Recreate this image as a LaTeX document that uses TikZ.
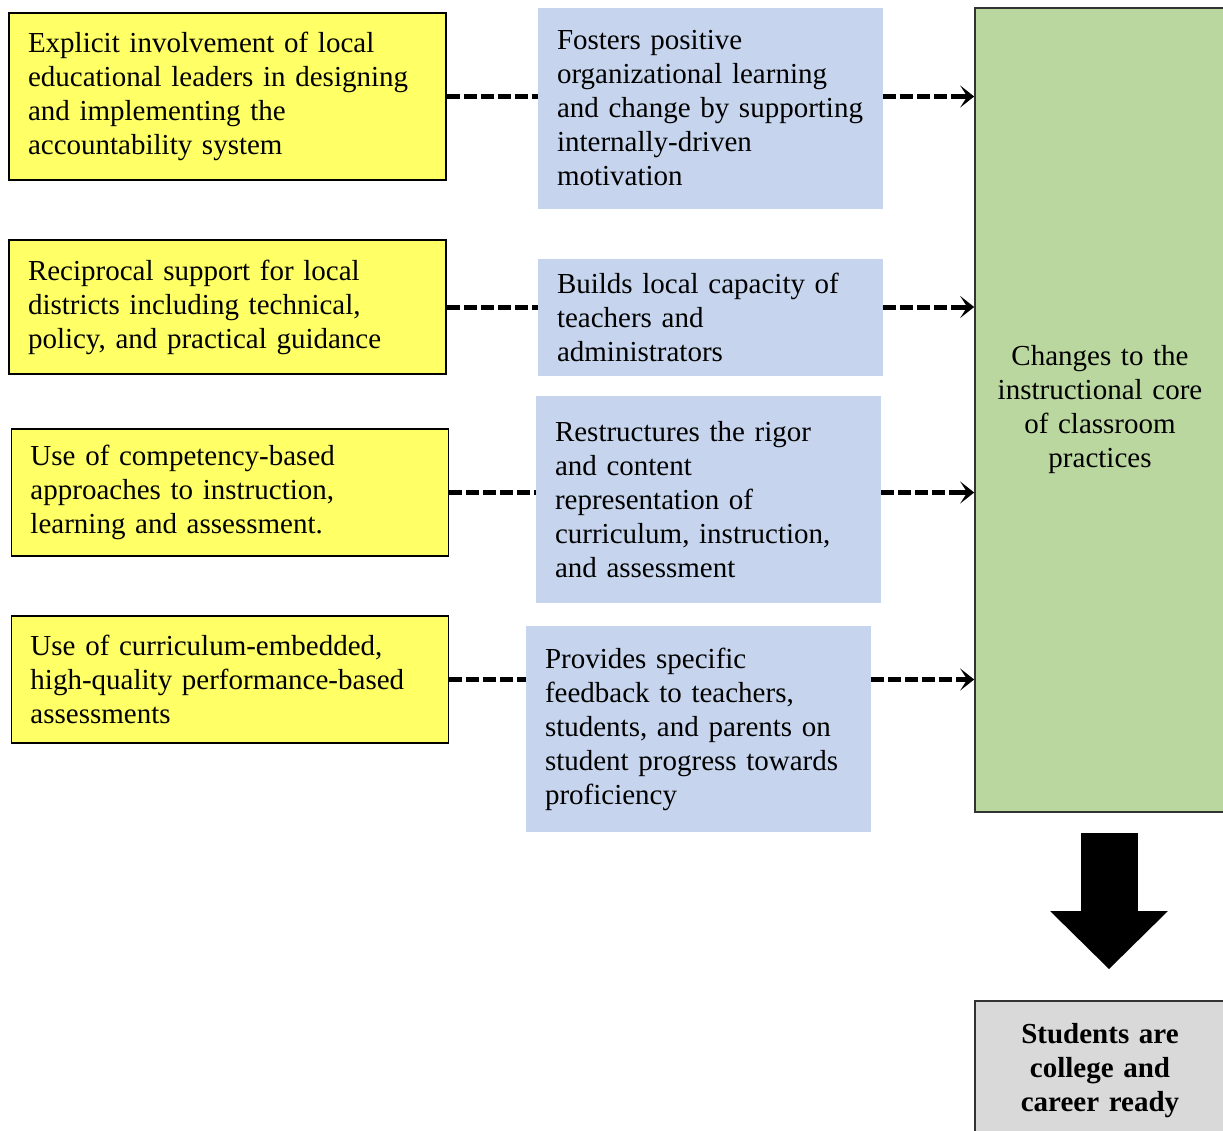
\documentclass[tikz,border=0pt]{standalone}
\usepackage{fontspec}
\setmainfont{Liberation Serif}
\usepackage{xcolor}
\definecolor{causeyel}{HTML}{FFFF66}
\definecolor{effblue}{HTML}{C6D5ED}
\definecolor{coregreen}{HTML}{BAD7A0}
\definecolor{readygray}{HTML}{D9D9D9}
\usetikzlibrary{arrows.meta,positioning,calc}
\tikzset{
  txt/.style       = {font=\fontsize{14.5}{17}\selectfont,inner xsep=9.5pt,
                      inner ysep=0pt,align=left},
  cause/.style     = {txt,draw=black,line width=0.8pt,fill=causeyel,
                      text width=199.5pt},
  effect/.style    = {txt,fill=effblue,text width=153.5pt},
  core/.style      = {txt,draw=black!80,line width=0.8pt,fill=coregreen,
                      align=center,text width=104pt,minimum width=125pt,
                      minimum height=402pt},
  ready/.style     = {core,fill=readygray,minimum height=69.5pt,
                      font=\fontsize{14.5}{17}\selectfont\bfseries},
  dashlink/.style  = {line width=2.5pt,dash pattern=on 6.5pt off 2pt},
  headtip/.style   = {line width=2.5pt,-{Stealth[length=7pt,width=11pt,inset=3.5pt]}},
  bigarr/.style    = {line width=28.5pt,-{Triangle[length=29pt,width=57pt]}},
}

\begin{document}
\begin{tikzpicture}[x=0.5pt,y=-0.5pt]
  \useasboundingbox (0,0) rectangle (1223,1131);
  % causes
  \node[cause,minimum height=83.5pt] (c1) at (227.5,96.5)
    {Explicit involvement of local\\educational leaders in designing\\and implementing the\\accountability system};
  \node[cause,minimum height=67pt] (c2) at (227.5,307)
    {Reciprocal support for local\\districts including technical,\\policy, and practical guidance};
  \node[cause,minimum height=63.5pt] (c3) at (230,492.5)
    {Use of competency-based\\approaches to instruction,\\learning and assessment.};
  \node[cause,minimum height=63.5pt] (c4) at (230,679.5)
    {Use of curriculum-embedded,\\high-quality performance-based\\assessments};
  % effects
  \node[effect,minimum height=100.5pt] (e1) at (710.5,108.5)
    {Fosters positive\\organizational learning\\and change by supporting\\internally-driven\\motivation};
  \node[effect,minimum height=58.5pt] (e2) at (710.5,317.5)
    {Builds local capacity of\\teachers and\\administrators};
  \node[effect,minimum height=103.5pt] (e3) at (708.5,499.5)
    {Restructures the rigor\\and content\\representation of\\curriculum, instruction,\\and assessment};
  \node[effect,minimum height=103pt] (e4) at (698.5,729)
    {Provides specific\\feedback to teachers,\\students, and parents on\\student progress towards\\proficiency};
  % outcome
  \node[core] (g) at (1100,410)
    {Changes to the\\instructional core\\of classroom\\practices};
  \node[ready] (s) at (1100,1070.5)
    {Students are\\college and\\career ready};
  \foreach \i in {1,...,4}{
    \draw[dashlink] (c\i.east) -- (c\i.east -| e\i.west);
    \draw[dashlink] (e\i.east |- c\i.east) -- ($(c\i.east -| g.west)+(-6pt,0)$);
    \draw[headtip] ($(c\i.east -| g.west)+(-8pt,0)$) -- (c\i.east -| g.west);
  }
  \draw[bigarr] ($(g.south)+(4.5pt,-10pt)$) -- ($(s.north)+(4.5pt,15.5pt)$);
\end{tikzpicture}
\end{document}
